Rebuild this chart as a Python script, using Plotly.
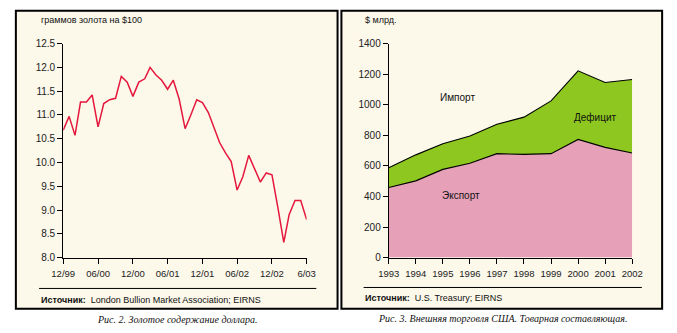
import plotly.graph_objects as go

W, H = 677, 333

# ---------- data: left chart (gold content of the dollar) ----------
gold_months = [
    "1999-12-01", "2000-01-01", "2000-02-01", "2000-03-01", "2000-04-01", "2000-05-01",
    "2000-06-01", "2000-07-01", "2000-08-01", "2000-09-01", "2000-10-01", "2000-11-01",
    "2000-12-01", "2001-01-01", "2001-02-01", "2001-03-01", "2001-04-01", "2001-05-01",
    "2001-06-01", "2001-07-01", "2001-08-01", "2001-09-01", "2001-10-01", "2001-11-01",
    "2001-12-01", "2002-01-01", "2002-02-01", "2002-03-01", "2002-04-01", "2002-05-01",
    "2002-06-01", "2002-07-01", "2002-08-01", "2002-09-01", "2002-10-01", "2002-11-01",
    "2002-12-01", "2003-01-01", "2003-02-01", "2003-03-01", "2003-04-01", "2003-05-01",
    "2003-06-01",
]
gold_grams = [
    10.68, 10.97, 10.57, 11.27, 11.27, 11.42,
    10.75, 11.24, 11.32, 11.35, 11.81, 11.69,
    11.39, 11.69, 11.76, 12.00, 11.84, 11.73,
    11.54, 11.73, 11.33, 10.71, 11.00, 11.32,
    11.26, 11.05, 10.72, 10.42, 10.20, 10.02,
    9.42, 9.70, 10.15, 9.85, 9.59, 9.78,
    9.74, 9.05, 8.32, 8.90, 9.20, 9.20,
    8.80,
]
gold_tickvals = ["1999-12-01", "2000-06-01", "2000-12-01", "2001-06-01",
                 "2001-12-01", "2002-06-01", "2002-12-01", "2003-06-01"]
gold_ticktext = ["12/99", "06/00", "12/00", "06/01", "12/01", "06/02", "12/02", "6/03"]
gold_yticks = [8.0, 8.5, 9.0, 9.5, 10.0, 10.5, 11.0, 11.5, 12.0, 12.5]

# ---------- data: right chart (US trade in goods) ----------
years = [1993, 1994, 1995, 1996, 1997, 1998, 1999, 2000, 2001, 2002]
exports = [458, 502, 577, 617, 680, 675, 680, 773, 721, 684]
imports = [588, 672, 745, 796, 872, 919, 1025, 1222, 1146, 1165]
trade_yticks = [0, 200, 400, 600, 800, 1000, 1200, 1400]

# ---------- styling ----------
CREAM = "#FCF8EA"
RED = "#E5173D"
PINK = "#E6A1B9"
GREEN = "#8DC71F"
SANS = "Liberation Sans, Arial, sans-serif"
SERIF = "Liberation Serif, Times New Roman, serif"


def px(x):
    return x / W


def py(y):
    return 1 - y / H


fig = go.Figure()

fig.add_trace(go.Scatter(
    x=gold_months, y=gold_grams, mode="lines",
    line=dict(color=RED, width=1.5), xaxis="x", yaxis="y",
    showlegend=False, hoverinfo="skip"))

fig.add_trace(go.Scatter(
    x=years, y=exports, mode="lines", fill="tozeroy", fillcolor=PINK,
    line=dict(color="black", width=1.1), xaxis="x2", yaxis="y2",
    showlegend=False, hoverinfo="skip"))
fig.add_trace(go.Scatter(
    x=years, y=imports, mode="lines", fill="tonexty", fillcolor=GREEN,
    line=dict(color="black", width=1.1), xaxis="x2", yaxis="y2",
    showlegend=False, hoverinfo="skip"))

axis_common = dict(showline=True, linecolor="black", linewidth=1,
                   ticks="outside", ticklen=5, tickcolor="black", tickwidth=1,
                   showgrid=False, zeroline=False)
xfont = dict(family=SANS, size=9.5, color="#222")
yfont = dict(family=SANS, size=10, color="#222")

ydom = [py(261), py(39)]

fig.update_layout(
    width=W, height=H,
    margin=dict(l=0, r=0, t=0, b=0),
    paper_bgcolor="white", plot_bgcolor="rgba(0,0,0,0)",
    xaxis=dict(domain=[px(53), px(305)], anchor="y",
               type="date", range=["1999-12-01", "2003-06-01"],
               tickmode="array", tickvals=gold_tickvals, ticktext=gold_ticktext,
               tickfont=xfont, ticklabelstandoff=2, **axis_common),
    yaxis=dict(domain=ydom, anchor="x", range=[8, 12.5],
               tickmode="array", tickvals=gold_yticks,
               ticktext=[f"{v:.1f}" for v in gold_yticks],
               tickfont=yfont, **axis_common),
    xaxis2=dict(domain=[px(390), px(642)], anchor="y2",
                range=[1993, 2002], tickmode="array", tickvals=years,
                ticktext=[str(y) for y in years],
                tickfont=xfont, ticklabelstandoff=2, **axis_common),
    yaxis2=dict(domain=ydom, anchor="x2", range=[0, 1400],
                tickmode="array", tickvals=trade_yticks,
                tickfont=yfont, **axis_common),
)

shapes = []
# panel backgrounds and borders
for (x0, x1) in [(4, 337), (341, 673)]:
    shapes.append(dict(type="rect", xref="paper", yref="paper",
                       x0=px(x0), x1=px(x1), y0=py(314), y1=py(5),
                       fillcolor=CREAM, line=dict(color="black", width=2),
                       layer="below"))
# rules above source lines
shapes.append(dict(type="line", xref="paper", yref="paper",
                   x0=px(28), x1=px(315), y0=py(293), y1=py(293),
                   line=dict(color="black", width=1)))
shapes.append(dict(type="line", xref="paper", yref="paper",
                   x0=px(364), x1=px(652), y0=py(292), y1=py(292),
                   line=dict(color="black", width=1)))
fig.update_layout(shapes=shapes)

ann = []


def text(x, y, s, size=9, xanchor="left", family=SANS, color="#111"):
    ann.append(dict(x=px(x), y=py(y), xref="paper", yref="paper", text=s,
                    showarrow=False, xanchor=xanchor, yanchor="middle",
                    font=dict(family=family, size=size, color=color)))


text(28, 15, "граммов золота на $100")
text(363, 15, "$ млрд.")
text(28, 305, "<b>Источник:</b>  London Bullion Market Association; EIRNS")
text(363, 303, "<b>Источник:</b>  U.S. Treasury; EIRNS")
text(461, 95, "Импорт", size=10, xanchor="center")
text(603, 116, "Дефицит", size=10, xanchor="center")
text(465, 197, "Экспорт", size=10, xanchor="center")
text(171, 325, "<i>Рис. 2. Золотое содержание доллара.</i>", size=10,
     xanchor="center", family=SERIF)
text(508, 324, "<i>Рис. 3. Внешняя торговля США. Товарная составляющая.</i>", size=10,
     xanchor="center", family=SERIF)
fig.update_layout(annotations=ann)

fig.write_html("out.html")
